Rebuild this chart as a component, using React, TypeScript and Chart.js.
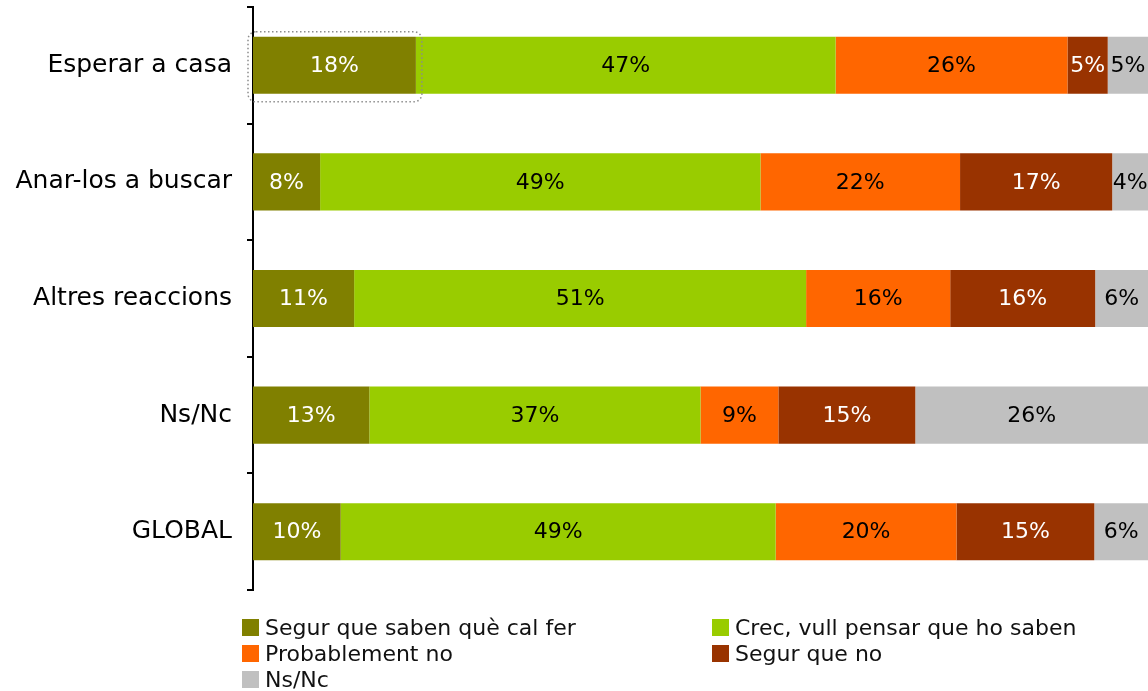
import React, { useEffect, useRef } from "react";
import { Chart, registerables } from "chart.js";

Chart.register(...registerables);

const categories = ["Esperar a casa", "Anar-los a buscar", "Altres reaccions", "Ns/Nc", "GLOBAL"];

const seriesNames = [
  "Segur que saben què cal fer",
  "Crec, vull pensar que ho saben",
  "Probablement no",
  "Segur que no",
  "Ns/Nc",
];

const segurSaben = [18.2, 7.5, 11.3, 13.0, 9.8];
const crecVull = [46.9, 49.2, 50.5, 37.0, 48.6];
const probablementNo = [25.9, 22.3, 16.1, 8.7, 20.2];
const segurNo = [4.5, 17.0, 16.2, 15.3, 15.4];
const nsNc = [4.5, 4.0, 5.9, 26.0, 6.0];

const seriesValues = [segurSaben, crecVull, probablementNo, segurNo, nsNc];
const seriesColors = ["#808000", "#99CC00", "#FF6600", "#993300", "#C0C0C0"];
const labelColors = ["#FFFFFF", "#000000", "#000000", "#FFFFFF", "#000000"];

const FONT = "'DejaVu Sans', sans-serif";

const dataLabelPlugin = {
  id: "segLabels",
  afterDatasetsDraw(chart: any) {
    const ctx = chart.ctx;
    ctx.save();
    ctx.font = `22px ${FONT}`;
    ctx.textAlign = "center";
    ctx.textBaseline = "middle";
    chart.data.datasets.forEach((ds: any, di: number) => {
      const meta = chart.getDatasetMeta(di);
      meta.data.forEach((el: any, i: number) => {
        const v = ds.data[i];
        const cx = (el.x + el.base) / 2;
        ctx.fillStyle = labelColors[di];
        ctx.fillText(`${Math.round(v)}%`, cx, el.y + 1);
      });
    });
    // dotted selection outline around first segment
    const el0: any = chart.getDatasetMeta(0).data[0];
    if (el0) {
      const left = Math.min(el0.x, el0.base) - 5;
      const right = Math.max(el0.x, el0.base) + 6;
      const top = el0.y - el0.height / 2 - 5;
      const bottom = el0.y + el0.height / 2 + 8;
      ctx.beginPath();
      ctx.setLineDash([1.5, 2.5]);
      ctx.lineWidth = 1.5;
      ctx.strokeStyle = "#8c8c8c";
      const r = 8;
      ctx.moveTo(left + r, top);
      ctx.lineTo(right - r, top);
      ctx.arcTo(right, top, right, top + r, r);
      ctx.lineTo(right, bottom - r);
      ctx.arcTo(right, bottom, right - r, bottom, r);
      ctx.lineTo(left + r, bottom);
      ctx.arcTo(left, bottom, left, bottom - r, r);
      ctx.lineTo(left, top + r);
      ctx.arcTo(left, top, left + r, top, r);
      ctx.closePath();
      ctx.stroke();
    }
    ctx.restore();
  },
};

export default function App() {
  const ref = useRef<HTMLCanvasElement | null>(null);

  useEffect(() => {
    if (!ref.current) return;
    const chart = new Chart(ref.current, {
      type: "bar",
      data: {
        labels: categories,
        datasets: seriesValues.map((vals, i) => ({
          label: seriesNames[i],
          data: vals,
          backgroundColor: seriesColors[i],
          borderWidth: 0,
          categoryPercentage: 1,
          barPercentage: 0.49,
        })),
      },
      options: {
        indexAxis: "y",
        animation: false,
        responsive: true,
        maintainAspectRatio: false,
        events: [],
        layout: { padding: { top: 7, bottom: 101, left: 0, right: 0 } },
        plugins: {
          legend: { display: false },
          tooltip: { enabled: false },
        },
        scales: {
          x: { stacked: true, min: 0, max: 100, display: false },
          y: {
            stacked: true,
            grid: {
              display: true,
              drawOnChartArea: false,
              drawTicks: true,
              tickLength: 6,
              color: "#000",
              lineWidth: 2,
              offset: true,
            },
            border: { display: true, color: "#000", width: 2 },
            ticks: {
              color: "#000",
              font: { family: FONT, size: 25 },
              padding: 15,
            },
            afterFit: (s: any) => {
              s.width = 253;
              s.paddingTop = 0;
              s.paddingBottom = 0;
            },
          },
        },
      } as any,
      plugins: [dataLabelPlugin],
    });
    return () => chart.destroy();
  }, []);

  const legendPos = [
    { x: 242, y: 619 },
    { x: 712, y: 619 },
    { x: 242, y: 645 },
    { x: 712, y: 645 },
    { x: 242, y: 671 },
  ];

  return (
    <div style={{ position: "absolute", left: 0, top: 0, width: 1148, height: 691, background: "#fff", overflow: "hidden" }}>
      <canvas ref={ref} />
      {seriesNames.map((name, i) => (
        <div
          key={name}
          style={{
            position: "absolute",
            left: legendPos[i].x,
            top: legendPos[i].y,
            height: 17,
            display: "flex",
            alignItems: "center",
            fontFamily: FONT,
            fontSize: 22,
            color: "#111",
            whiteSpace: "nowrap",
          }}
        >
          <span style={{ display: "inline-block", width: 17, height: 17, background: seriesColors[i], marginRight: 6 }} />
          <span>{name}</span>
        </div>
      ))}
    </div>
  );
}
